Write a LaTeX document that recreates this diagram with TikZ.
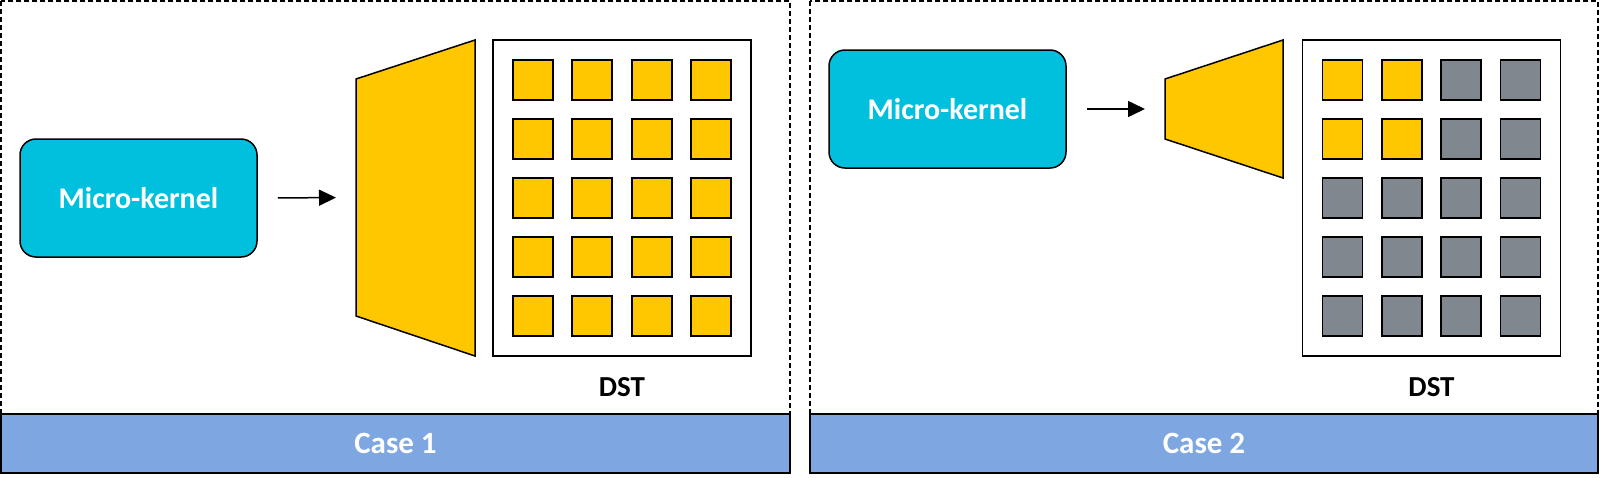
\documentclass[tikz,border=0pt]{standalone}
\usepackage{fontspec}
\setmainfont{Carlito}
\usetikzlibrary{arrows.meta}
\definecolor{mkcyan}{RGB}{0,192,222}
\definecolor{gold}{RGB}{255,199,0}
\definecolor{slate}{RGB}{128,135,142}
\definecolor{barblue}{RGB}{126,166,224}
\begin{document}
\begin{tikzpicture}[x=1pt,y=-1pt,
  panel/.style={draw, line width=1.8pt, dash pattern=on 5pt off 3pt},
  mk/.style={draw, line width=1.5pt, fill=mkcyan, rounded corners=16pt, text=white,
    font=\fontsize{30}{34}\selectfont\bfseries, minimum width=237pt, minimum height=118pt, inner sep=0pt},
  trap/.style={draw, line width=1.5pt, fill=gold, line join=miter},
  frame/.style={draw, line width=1.5pt, fill=white, minimum width=258pt, minimum height=316pt, inner sep=0pt},
  cellY/.style={draw, line width=1.8pt, fill=gold, minimum size=40pt, inner sep=0pt},
  cellG/.style={draw, line width=1.8pt, fill=slate, minimum size=40pt, inner sep=0pt},
  lbl/.style={font=\fontsize{29}{33}\selectfont\bfseries, inner sep=0pt},
  bar/.style={draw, line width=1.8pt, fill=barblue, text=white, minimum height=59pt, inner sep=0pt,
    font=\fontsize{31}{35}\selectfont\bfseries},
  flow/.style={line width=1.5pt, -{Triangle[length=17pt,width=16pt]}, shorten <=20pt, shorten >=20pt}
]
\useasboundingbox (0,0) rectangle (1600,477);
\fill[white] (0,0) rectangle (1600,477);

% panels
\draw[panel] (1,1) rectangle (790,414);
\draw[panel] (810,1) rectangle (1598,414);

% ---------- Case 1 ----------
\node[mk] (mk1) at (138.5,198) {Micro-kernel};
\draw[trap] (356,79) -- (475,40) -- (475,356) -- (356,316) -- cycle;
\coordinate (t1w) at (356,197.5);
\draw[flow] (mk1.east) -- (t1w);
\node[frame] (dst1) at (622,198) {};
\foreach \r in {0,...,4}{
  \foreach \c in {0,...,3}{
    \node[cellY] (a\r\c) at ({622+(\c-1.5)*59.3},{80+\r*59}) {};
  }
}
\node[lbl] (dstl1) at (622,387) {DST};
\node[bar, minimum width=789pt] (bar1) at (395.5,443.5) {Case 1};

% ---------- Case 2 ----------
\node[mk] (mk2) at (947.5,109) {Micro-kernel};
\draw[trap] (1165,79) -- (1283,40) -- (1283,178) -- (1165,139) -- cycle;
\coordinate (t2w) at (1165,109);
\draw[flow] (mk2.east) -- (t2w);
\node[frame] (dst2) at (1431.5,198) {};
\foreach \r in {0,...,4}{
  \foreach \c in {0,...,3}{
    \pgfmathtruncatemacro{\isY}{(\r<2)&&(\c<2)}
    \ifnum\isY=1
      \node[cellY] (b\r\c) at ({1431.5+(\c-1.5)*59.3},{80+\r*59}) {};
    \else
      \node[cellG] (b\r\c) at ({1431.5+(\c-1.5)*59.3},{80+\r*59}) {};
    \fi
  }
}
\node[lbl] (dstl2) at (1431.5,387) {DST};
\node[bar, minimum width=788pt] (bar2) at (1204,443.5) {Case 2};
\end{tikzpicture}
\end{document}
